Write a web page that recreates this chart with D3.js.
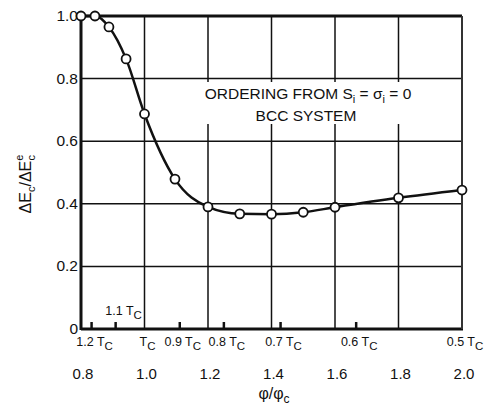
<!DOCTYPE html>
<html>
<head>
<meta charset="utf-8">
<script src="https://cdn.jsdelivr.net/npm/d3@7"></script>
<style>
  body { margin: 0; background: #fff; }
  text { font-family: "Liberation Sans", Arial, sans-serif; fill: #111; }
</style>
</head>
<body>
<div id="chart"></div>
<script>
// data
const phiRatio = [0.8, 0.844, 0.888, 0.942, 1.0, 1.096, 1.2, 1.3, 1.4, 1.5, 1.6, 1.8, 2.0];
const energyRatio = [1.0, 1.0, 0.965, 0.863, 0.687, 0.479, 0.39, 0.368, 0.367, 0.373, 0.389, 0.419, 0.444];

const xTicks = [0.8, 1.0, 1.2, 1.4, 1.6, 1.8, 2.0];
const yTicks = [0, 0.2, 0.4, 0.6, 0.8, 1.0];

// temperature marks along the bottom (T / Tc), phi/phic = Tc/T
const tempRatio = [1.2, 1.1, 1.0, 0.9, 0.8, 0.7, 0.6, 0.5];
const tempLabel = ["1.2", "1.1", "", "0.9", "0.8", "0.7", "0.6", "0.5"];

const W = 486, H = 410;
const margin = {top: 16, right: 24, bottom: 81, left: 81};

const svg = d3.select("#chart").append("svg")
    .attr("width", W)
    .attr("height", H);

const x = d3.scaleLinear().domain([0.8, 2.0]).range([margin.left, W - margin.right]);
const y = d3.scaleLinear().domain([0, 1.0]).range([H - margin.bottom, margin.top]);

// grid
svg.append("g")
    .selectAll("line")
    .data(xTicks.slice(1, -1))
    .enter().append("line")
    .attr("x1", d => x(d)).attr("x2", d => x(d))
    .attr("y1", y(1)).attr("y2", y(0))
    .attr("stroke", "#111").attr("stroke-width", 1.5);

svg.append("g")
    .selectAll("line")
    .data(yTicks.slice(1, -1))
    .enter().append("line")
    .attr("x1", x(0.8)).attr("x2", x(2.0))
    .attr("y1", d => y(d)).attr("y2", d => y(d))
    .attr("stroke", "#111").attr("stroke-width", 1.5);

// white box behind the annotation
svg.append("rect")
    .attr("x", 200).attr("y", 82)
    .attr("width", 222).attr("height", 42)
    .attr("fill", "#fff");

// frame
svg.append("line").attr("x1", x(0.8)).attr("x2", x(0.8)).attr("y1", y(1) - 1).attr("y2", y(0) + 1)
    .attr("stroke", "#111").attr("stroke-width", 3);
svg.append("line").attr("x1", x(0.8)).attr("x2", x(2.0)).attr("y1", y(1)).attr("y2", y(1))
    .attr("stroke", "#111").attr("stroke-width", 3);
svg.append("line").attr("x1", x(0.8)).attr("x2", x(2.0) + 1).attr("y1", y(0)).attr("y2", y(0))
    .attr("stroke", "#111").attr("stroke-width", 3);
svg.append("line").attr("x1", x(2.0)).attr("x2", x(2.0)).attr("y1", y(1)).attr("y2", y(0))
    .attr("stroke", "#333").attr("stroke-width", 2);

// small temperature ticks on the bottom axis
svg.append("g")
    .selectAll("line")
    .data(tempRatio.filter(t => t !== 1.0 && t !== 0.5))
    .enter().append("line")
    .attr("x1", d => x(1 / d)).attr("x2", d => x(1 / d))
    .attr("y1", y(0)).attr("y2", y(0) - 7)
    .attr("stroke", "#111").attr("stroke-width", 2.5);

// y tick labels
svg.append("g")
    .selectAll("text")
    .data(yTicks)
    .enter().append("text")
    .attr("x", margin.left - 3)
    .attr("y", d => y(d) + 5)
    .attr("text-anchor", "end")
    .style("font-size", "15.5px")
    .text(d => d === 0 ? "0" : d.toFixed(1));

// x tick labels
svg.append("g")
    .selectAll("text")
    .data(xTicks)
    .enter().append("text")
    .attr("x", d => x(d) + 2)
    .attr("y", 379)
    .attr("text-anchor", "middle")
    .style("font-size", "15px")
    .text(d => d.toFixed(1));

// temperature labels
const tl = svg.append("g")
    .selectAll("text")
    .data(tempRatio)
    .enter().append("text")
    .attr("x", d => d === 1.1 ? x(1 / d) + 8 : x(1 / d) + 3)
    .attr("y", d => d === 1.1 ? 315 : 346)
    .attr("text-anchor", "middle")
    .style("font-size", "12.5px");
tl.append("tspan").text((d, i) => tempLabel[i] ? tempLabel[i] + " T" : "T");
tl.append("tspan").attr("dy", 4).style("font-size", "11.5px").text("C");

// axis titles
const yl = svg.append("text")
    .attr("transform", "translate(31,184) rotate(-90)")
    .attr("text-anchor", "middle")
    .style("font-size", "16px");
yl.append("tspan").text("ΔE");
yl.append("tspan").attr("dy", 4).style("font-size", "11px").text("c");
yl.append("tspan").attr("dy", -4).text("/ΔE");
yl.append("tspan").attr("dy", -8).style("font-size", "11px").text("e");
yl.append("tspan").attr("dx", -6).attr("dy", 12).style("font-size", "11px").text("c");

const xl = svg.append("text")
    .attr("x", 274).attr("y", 399)
    .attr("text-anchor", "middle")
    .style("font-size", "16px");
xl.append("tspan").text("φ/φ");
xl.append("tspan").attr("dy", 4).style("font-size", "12px").text("c");

// annotation
const a1 = svg.append("text")
    .attr("x", 308).attr("y", 99)
    .attr("text-anchor", "middle")
    .style("font-size", "15.5px");
a1.append("tspan").text("ORDERING FROM S");
a1.append("tspan").attr("dy", 4).style("font-size", "11px").text("i");
a1.append("tspan").attr("dy", -4).text(" = σ");
a1.append("tspan").attr("dy", 4).style("font-size", "11px").text("i");
a1.append("tspan").attr("dy", -4).text(" = 0");

svg.append("text")
    .attr("x", 306).attr("y", 121)
    .attr("text-anchor", "middle")
    .style("font-size", "15.5px")
    .text("BCC SYSTEM");

// curve and points
const pts = phiRatio.map((d, i) => [d, energyRatio[i]]);
const line = d3.line()
    .x(d => x(d[0]))
    .y(d => y(d[1]))
    .curve(d3.curveMonotoneX);

svg.append("path")
    .datum(pts)
    .attr("d", line)
    .attr("fill", "none")
    .attr("stroke", "#111")
    .attr("stroke-width", 2.5);

svg.append("g")
    .selectAll("circle")
    .data(pts)
    .enter().append("circle")
    .attr("cx", d => x(d[0]))
    .attr("cy", d => y(d[1]))
    .attr("r", 4.5)
    .attr("fill", "#fff")
    .attr("stroke", "#111")
    .attr("stroke-width", 1.8);
</script>
</body>
</html>
